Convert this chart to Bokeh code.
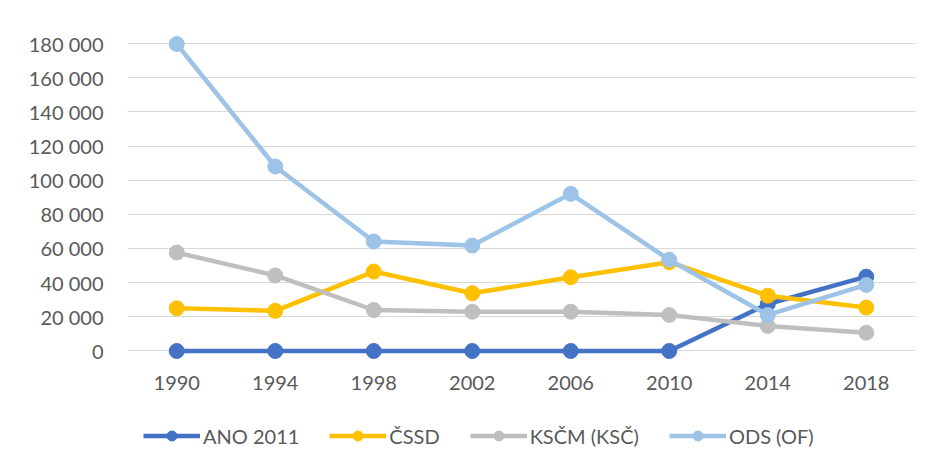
from bokeh.plotting import figure
from bokeh.models import (Range1d, FactorRange, FixedTicker, Legend, LegendItem,
                          ColumnDataSource)
from bokeh.core.properties import value
from bokeh.embed import file_html
from bokeh.resources import INLINE

years = ["1990", "1994", "1998", "2002", "2006", "2010", "2014", "2018"]
ano = [0, 0, 0, 0, 0, 0, 27500, 43500]
cssd = [25000, 23500, 46500, 33800, 43200, 52000, 32400, 25400]
kscm = [57600, 44200, 24000, 23000, 23000, 21100, 14700, 10700]
ods = [179700, 108000, 64100, 61700, 92000, 53400, 21100, 38700]

series_names = ["ANO 2011", "ČSSD", "KSČM (KSČ)", "ODS (OF)"]
series_values = [ano, cssd, kscm, ods]
series_colors = ["#4472C4", "#FFC000", "#BFBFBF", "#9DC3E6"]

y_ticks = [0, 20000, 40000, 60000, 80000, 100000, 120000, 140000, 160000, 180000]
y_tick_labels = ["0", "20 000", "40 000", "60 000", "80 000", "100 000",
                 "120 000", "140 000", "160 000", "180 000"]

FONT = "Lato"
TXT = "#595959"

p = figure(width=928, height=460, output_backend="svg", toolbar_location=None,
           x_range=FactorRange(*years, range_padding=0),
           y_range=Range1d(-64098, 185854),
           x_axis_location=None,
           min_border_left=127, min_border_right=13,
           min_border_top=33, min_border_bottom=0)
p.outline_line_color = None
p.background_fill_color = "white"
p.border_fill_color = "white"

p.xgrid.grid_line_color = None
p.ygrid.grid_line_color = "#D9D9D9"
p.ygrid.grid_line_width = 1.2
p.yaxis.ticker = FixedTicker(ticks=y_ticks)
p.yaxis.major_label_overrides = {t: l for t, l in zip(y_ticks, y_tick_labels)}

ax = p.yaxis[0]
ax.axis_line_color = None
ax.major_tick_line_color = None
ax.minor_tick_line_color = None
ax.major_tick_out = 0
ax.major_tick_in = 0
ax.major_label_text_font = FONT
ax.major_label_text_font_size = "20px"
ax.major_label_text_color = TXT
ax.major_label_standoff = 24

# category labels under the zero line
lab_src = ColumnDataSource(dict(x=years, y=[0] * len(years), t=years))
p.text("x", "y", text="t", source=lab_src, y_offset=32,
       text_align="center", text_baseline="middle",
       text_font=value(FONT), text_font_size="20px", text_color=TXT)

items = []
for name, vals, col in zip(series_names, series_values, series_colors):
    src = ColumnDataSource(dict(x=years, y=vals))
    lr = p.line("x", "y", source=src, line_color=col, line_width=4.5)
    sr = p.scatter("x", "y", source=src, size=15, fill_color=col, line_color=col)
    items.append(LegendItem(label=name, renderers=[lr, sr]))

legend = Legend(items=items, orientation="horizontal", location=(16, 12),
                label_text_font=FONT, label_text_font_size="20px",
                label_text_color=TXT, glyph_width=57, glyph_height=25,
                label_height=25,
                label_standoff=3, spacing=30, padding=0, margin=0,
                border_line_color=None, background_fill_alpha=0)
p.add_layout(legend, "center")

open("out.html", "w").write(file_html(p, INLINE))
